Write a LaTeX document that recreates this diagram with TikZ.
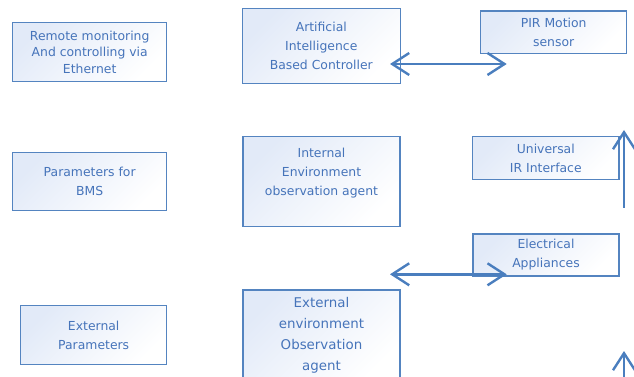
\documentclass[tikz,border=0pt]{standalone}
\usepackage{fontspec}
\setmainfont{DejaVu Sans}
\usetikzlibrary{arrows.meta}

\definecolor{boxline}{RGB}{84,132,192}
\definecolor{boxtext}{RGB}{70,116,186}
\definecolor{boxtint}{RGB}{226,234,248}
\definecolor{linkblue}{RGB}{74,126,190}

\begin{document}
\begin{tikzpicture}[x=1pt,y=-1pt,
    block/.style={draw=boxline,line width=1.1pt,top color=boxtint,bottom color=white,
        shading angle=45,text=boxtext,align=center,inner sep=0pt,
        font=\fontsize{12.4}{19}\selectfont},
    link/.style={draw=linkblue,line width=2.8pt,
        {Straight Barb[length=17pt,width=22pt,line width=2.4pt]}-{Straight Barb[length=17pt,width=22pt,line width=2.4pt]}},
    uplink/.style={draw=linkblue,line width=2.8pt,
        -{Straight Barb[length=17pt,width=22pt,line width=2.4pt]}}]
                % page frame
                \useasboundingbox (0,0) rectangle (634,377);
                \clip (0,0) rectangle (634,377);
                % left column
                \node[block,minimum width=154,minimum height=59,font=\fontsize{12.4}{16.5}\selectfont]
                    (remote) at (89.7,52.2) {Remote monitoring\\And controlling via\\Ethernet};
                \node[block,minimum width=154,minimum height=58.7] (bms) at (89.7,181.5) {Parameters for\\BMS};
                \node[block,minimum width=146,minimum height=58.6] (extpar) at (93.7,335) {External\\Parameters};
                % middle column
                \node[block,minimum width=157.5,minimum height=75] (aictrl) at (321.3,46)
                    {Artificial\\Intelligence\\Based Controller};
                \node[block,minimum width=157,minimum height=90] (intobs) at (321.5,181.7)
                    {Internal\\Environment\\observation agent\\ };
                \node[block,minimum width=157,minimum height=90,font=\fontsize{13.4}{21}\selectfont]
                    (extobs) at (321.5,335) {External\\environment\\Observation\\agent};
                % right column
                \node[block,minimum width=146,minimum height=42.3] (pir) at (553.7,32.2) {PIR Motion\\sensor};
                \node[block,minimum width=146.3,minimum height=43] (irif) at (545.8,158.2) {Universal\\IR Interface};
                \node[block,minimum width=146,minimum height=42] (appl) at (546,255) {Electrical\\Appliances};
                % arrow ends
                \coordinate (topL) at (390,64);
                \coordinate (topR) at (506.7,64);
                \coordinate (midL) at (390,274.3);
                \coordinate (midR) at (506.7,274.3);
                \coordinate (upA) at (624,207.7);
                \coordinate (upB) at (624,130);
                \coordinate (lowA) at (624,380);
                \coordinate (lowB) at (624,351);
                % connectors
                \draw[link] (topL) -- (topR);
                \draw[link] (midL) -- (midR);
                \draw[uplink] (upA) -- (upB);
                \draw[uplink] (lowA) -- (lowB);
            \end{tikzpicture}
\end{document}
